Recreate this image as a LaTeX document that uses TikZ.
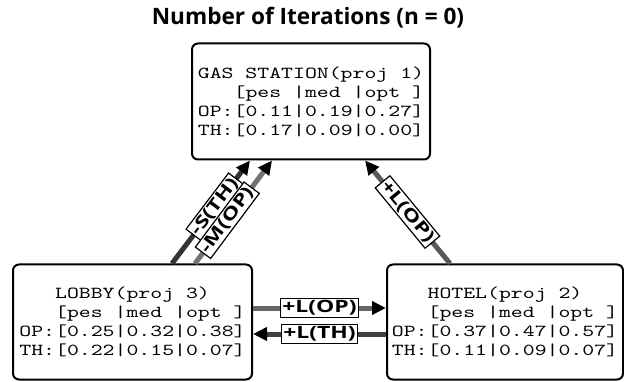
\documentclass[tikz,border=0pt]{standalone}
\usepackage{fontspec}
\usetikzlibrary{arrows.meta}
\newfontfamily\codefont[FakeStretch=1.35]{lmmono10-regular.otf}
\newfontfamily\tagfont[FakeStretch=1.35]{Open Sans}
\newfontfamily\headfont{Open Sans}
% header row of the estimate table, padded to the width of "OP:"
\newcommand{\colrow}{\hphantom{OP:}[pes\ |med\ |opt\ ]}
\begin{document}
\begin{tikzpicture}[x=1pt,y=-1pt]
        \tikzstyle{project}=[draw, line width=2pt, rounded corners=6pt, minimum width=238pt, minimum height=116pt, inner sep=0pt, align=center, font=\codefont\fontsize{16.8}{19}\selectfont]
        \tikzstyle{link}=[draw, line width=5pt, -{Triangle[length=14pt,width=13pt,color=black]}]
        \tikzstyle{change}=[draw=black, fill=white, text=black, line width=1.2pt, sloped, inner sep=2pt, font=\tagfont\bfseries\fontsize{17}{17}\selectfont]
        \useasboundingbox (0,0) rectangle (624,382);
        \node [anchor=base, font=\headfont\bfseries\fontsize{22.6}{22.6}\selectfont] (title) at (308,25) {Number of Iterations (n = 0)};
        \begin{scope}
                \node [project] (gas) at (311,101.5) {GAS STATION(proj 1)\\ \colrow\\ OP:[0.11|0.19|0.27]\\ TH:[0.17|0.09|0.00]};
                \node [project, minimum width=239pt, minimum height=115pt] (lobby) at (132.5,322) {LOBBY(proj 3)\\ \colrow\\ OP:[0.25|0.32|0.38]\\ TH:[0.22|0.15|0.07]};
                \node [project, minimum width=236pt, minimum height=115pt] (hotel) at (505,322) {HOTEL(proj 2)\\ \colrow\\ OP:[0.37|0.47|0.57]\\ TH:[0.11|0.09|0.07]};
                \path ([xshift=39.5pt]lobby.north) edge [link, black!80] node[change, pos=0.55] {-S(TH)} ([xshift=-61pt]gas.south);
                \path ([xshift=62.5pt]lobby.north) edge [link, black!55] node[change, pos=0.42] {-M(OP)} ([xshift=-39pt]gas.south);
                \path ([xshift=-55pt]hotel.north) edge [link, black!65] node[change, pos=0.5] {+L(OP)} ([xshift=54pt]gas.south);
                \path ([yshift=14pt]lobby.east) edge [link, black!60] node[change] {+L(OP)} ([yshift=14pt]hotel.west);
                \path ([yshift=-12pt]hotel.west) edge [link, black!75] node[change] {+L(TH)} ([yshift=-12pt]lobby.east);
        \end{scope}
\end{tikzpicture}
\end{document}
